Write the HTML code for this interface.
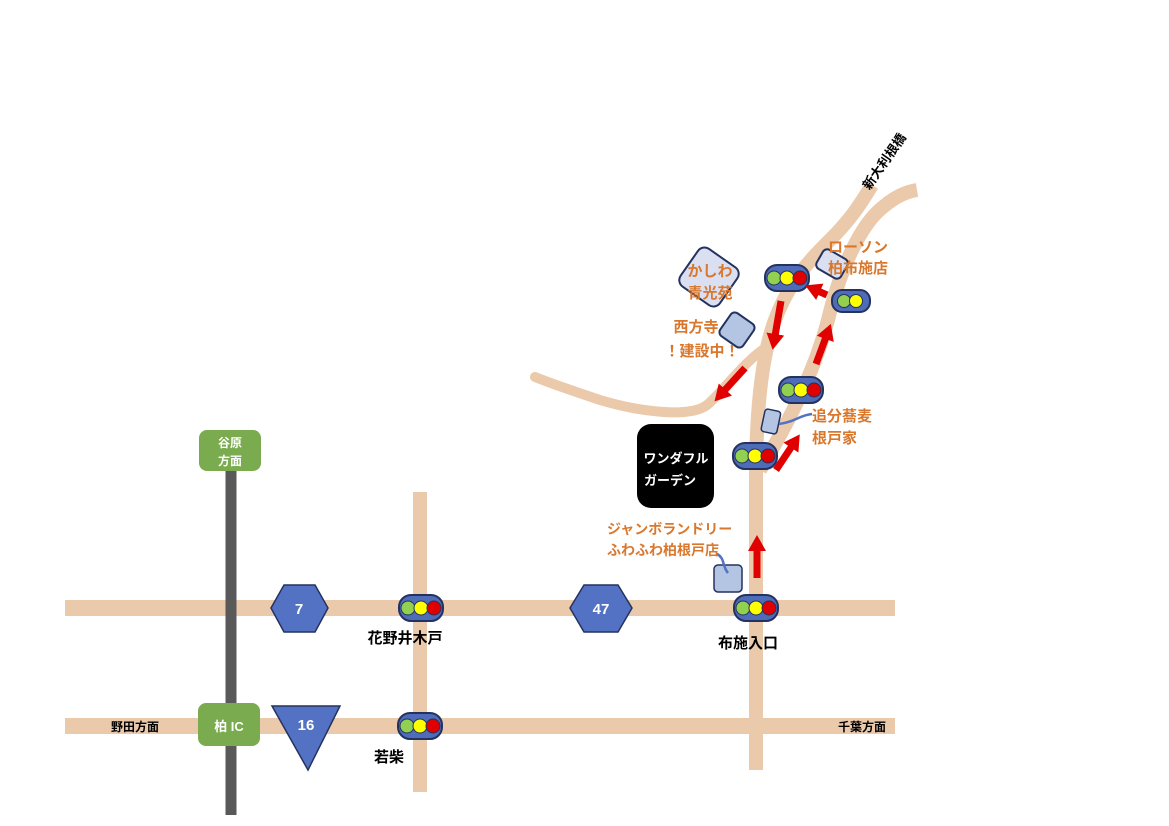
<!DOCTYPE html>
<html><head><meta charset="utf-8"><style>
html,body{margin:0;padding:0;background:#fff;}
svg{display:block;}
text{font-family:"Liberation Sans","Noto Sans CJK JP",sans-serif;font-weight:bold;}
</style></head><body>
<svg width="1169" height="826" viewBox="0 0 1169 826" xmlns="http://www.w3.org/2000/svg">
<defs>
<marker id="ah" markerUnits="userSpaceOnUse" markerWidth="20" markerHeight="20" refX="2" refY="10" orient="auto">
<polygon points="0,1 16,10 0,19" fill="#e00000"/>
</marker>
<g id="tl">
<rect x="-22" y="-13" width="44" height="26" rx="12" fill="#4f6cb8" stroke="#24325f" stroke-width="2"/>
<circle cx="-13" cy="0" r="7" fill="#92d050" stroke="#24325f" stroke-width="1"/>
<circle cx="0" cy="0" r="7" fill="#ffff00" stroke="#24325f" stroke-width="1"/>
<circle cx="13" cy="0" r="7" fill="#e00000" stroke="#24325f" stroke-width="1"/>
</g>
</defs>
<g fill="none" stroke="#ebc9ab" stroke-linecap="butt">
<line x1="65" y1="608" x2="895" y2="608" stroke-width="16"/>
<line x1="65" y1="726" x2="895" y2="726" stroke-width="16"/>
<line x1="420" y1="492" x2="420" y2="792" stroke-width="14"/>
<path d="M756 770 L756 480 C756 420 760 360 775 320 C790 280 810 260 830 240 C850 220 860 205 872 185" stroke-width="14"/>
<path d="M760 470 C790 420 815 370 828 320 C840 270 860 225 883 207 C895 197 905 192 917 190" stroke-width="14"/>
<path d="M767 347 C745 360 720 395 707 405 C690 418 640 412 600 400 C570 390 550 383 535 377" stroke-width="10" stroke-linecap="round"/>
</g>
<line x1="231" y1="470" x2="231" y2="815" stroke="#595959" stroke-width="11"/>
<rect x="199" y="430" width="62" height="41" rx="8" fill="#7aab4e"/>
<text x="230" y="447" font-size="12" fill="#fff" text-anchor="middle">谷原</text>
<text x="230" y="465" font-size="12" fill="#fff" text-anchor="middle">方面</text>
<rect x="198" y="703" width="62" height="43" rx="8" fill="#7aab4e"/>
<text x="229" y="731" font-size="13" fill="#fff" text-anchor="middle">柏 IC</text>
<polygon points="271,608 284,585 315,585 328,608 315,632 284,632" fill="#5472c4" stroke="#24325f" stroke-width="1.5"/>
<text x="299" y="614" font-size="15" fill="#fff" text-anchor="middle">7</text>
<polygon points="570,608 584,585 618,585 632,608 618,632 584,632" fill="#5472c4" stroke="#24325f" stroke-width="1.5"/>
<text x="601" y="614" font-size="15" fill="#fff" text-anchor="middle">47</text>
<polygon points="272,706 340,706 308,770" fill="#5472c4" stroke="#24325f" stroke-width="1.5"/>
<text x="306" y="730" font-size="15" fill="#fff" text-anchor="middle">16</text>
<use href="#tl" x="421" y="608"/>
<use href="#tl" x="756" y="608"/>
<use href="#tl" x="420" y="726"/>
<use href="#tl" x="787" y="278"/>
<use href="#tl" x="755" y="456"/>
<use href="#tl" x="801" y="390"/>
<g transform="translate(851,301)">
<rect x="-19" y="-11" width="38" height="22" rx="10" fill="#4f6cb8" stroke="#24325f" stroke-width="2"/>
<circle cx="-7" cy="0" r="6.5" fill="#92d050" stroke="#24325f" stroke-width="1"/>
<circle cx="5" cy="0" r="6.5" fill="#ffff00" stroke="#24325f" stroke-width="1"/>
</g>
<rect x="637" y="424" width="77" height="84" rx="14" fill="#000"/>
<text x="676" y="463" font-size="13" fill="#fff" text-anchor="middle">ワンダフル</text>
<text x="670" y="485" font-size="13" fill="#fff" text-anchor="middle">ガーデン</text>
<g stroke="#e00000" stroke-width="7" marker-end="url(#ah)" fill="none">
<line x1="757" y1="578" x2="757" y2="549"/>
<line x1="776" y1="470" x2="792" y2="446"/>
<line x1="816" y1="364" x2="826" y2="337"/>
<line x1="827" y1="295" x2="818" y2="291"/>
<line x1="781" y1="301" x2="775" y2="336"/>
<line x1="745" y1="368" x2="724" y2="391"/>
</g>
<rect x="685" y="254" width="48" height="46" rx="8" fill="#dae0f2" stroke="#24325f" stroke-width="2" transform="rotate(35 709 277)"/>
<text x="710" y="276" font-size="15" fill="#d9782d" text-anchor="middle">かしわ</text>
<text x="710" y="298" font-size="15" fill="#d9782d" text-anchor="middle">青光苑</text>
<rect x="723" y="316" width="28" height="28" rx="5" fill="#b4c5e4" stroke="#24325f" stroke-width="2" transform="rotate(35 737 330)"/>
<text x="696" y="332" font-size="15" fill="#d9782d" text-anchor="middle">西方寺</text>
<text x="702" y="356" font-size="15" fill="#d9782d" text-anchor="middle">！建設中！</text>
<rect x="818" y="253" width="28" height="22" rx="5" fill="#dae0f2" stroke="#24325f" stroke-width="2" transform="rotate(30 832 264)"/>
<text x="828" y="252" font-size="15" fill="#d9782d">ローソン</text>
<text x="828" y="273" font-size="15" fill="#d9782d">柏布施店</text>
<rect x="763" y="410" width="16" height="23" rx="3" fill="#b4c5e4" stroke="#24325f" stroke-width="1.5" transform="rotate(12 771 421)"/>
<path d="M779 424 C795 422 800 415 812 414" stroke="#5472c4" stroke-width="2.5" fill="none"/>
<text x="812" y="421" font-size="15" fill="#d9782d">追分蕎麦</text>
<text x="812" y="443" font-size="15" fill="#d9782d">根戸家</text>
<rect x="714" y="565" width="28" height="27" rx="4" fill="#b4c5e4" stroke="#24325f" stroke-width="1.5"/>
<path d="M717 554 C725 558 722 566 728 573" stroke="#5472c4" stroke-width="2.5" fill="none"/>
<text x="607" y="534" font-size="14" fill="#d9782d">ジャンボランドリー</text>
<text x="607" y="555" font-size="14" fill="#d9782d">ふわふわ柏根戸店</text>
<text x="405" y="643" font-size="15" fill="#000" text-anchor="middle">花野井木戸</text>
<text x="748" y="648" font-size="15" fill="#000" text-anchor="middle">布施入口</text>
<text x="389" y="762" font-size="15" fill="#000" text-anchor="middle">若柴</text>
<text x="135" y="731" font-size="12" fill="#000" text-anchor="middle">野田方面</text>
<text x="862" y="731" font-size="12" fill="#000" text-anchor="middle">千葉方面</text>
<text x="0" y="0" font-size="13" fill="#000" text-anchor="middle" transform="translate(888,164) rotate(-55)">新大利根橋</text>
</svg>
</body></html>
